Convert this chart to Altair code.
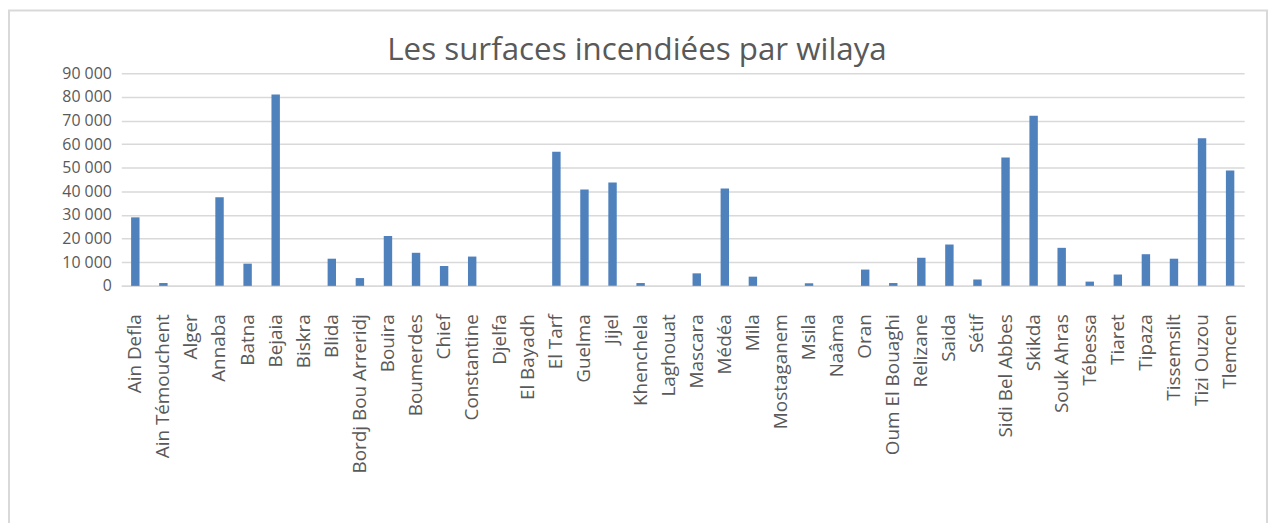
import altair as alt
import pandas as pd

wilayas = [
    "Ain Defla", "Ain Témouchent", "Alger", "Annaba", "Batna", "Bejaia", "Biskra",
    "Blida", "Bordj Bou Arreridj", "Bouira", "Boumerdes", "Chief", "Constantine",
    "Djelfa", "El Bayadh", "El Tarf", "Guelma", "Jijel", "Khenchela", "Laghouat",
    "Mascara", "Médéa", "Mila", "Mostaganem", "Msila", "Naâma", "Oran",
    "Oum El Bouaghi", "Relizane", "Saida", "Sétif", "Sidi Bel Abbes", "Skikda",
    "Souk Ahras", "Tébessa", "Tiaret", "Tipaza", "Tissemsilt", "Tizi Ouzou", "Tlemcen",
]
surfaces = [
    29000, 1200, 0, 37500, 9400, 81000, 0,
    11500, 3300, 21100, 14000, 8400, 12400,
    0, 0, 56800, 40800, 43700, 1200, 0,
    5300, 41200, 3900, 0, 1100, 0, 6900,
    1200, 11900, 17500, 2700, 54300, 72000,
    16100, 1800, 4800, 13400, 11500, 62500, 48800,
]
y_ticks = [0, 10000, 20000, 30000, 40000, 50000, 60000, 70000, 80000, 90000]
title_text = ["Les surfaces incendiées par wilaya"]

df = pd.DataFrame({"Wilaya": wilayas, "Surface": surfaces})

W, H = 1130, 214
PAD = {"left": 114, "top": 64, "right": 24, "bottom": 237}
FONT = "Open Sans"
GREY = "#595959"

bars = alt.Chart(df).mark_bar(color="#4f81bd").encode(
    x=alt.X(
        "Wilaya:N",
        sort=wilayas,
        scale=alt.Scale(paddingInner=0.7, paddingOuter=0.35),
        axis=alt.Axis(
            title=None, labelAngle=-90, labelAlign="right", labelBaseline="middle",
            labelFontSize=19, labelFont=FONT, labelColor=GREY, ticks=False,
            domainColor="#d9d9d9", domainWidth=1.5, labelPadding=28, labelOverlap=False,
        ),
    ),
    y=alt.Y(
        "Surface:Q",
        scale=alt.Scale(domain=[0, 90000], nice=False),
        axis=alt.Axis(
            title=None, values=y_ticks,
            labelExpr="replace(format(datum.value, ','), ',', ' ')",
            grid=True, gridColor="#d9d9d9", gridWidth=1.5, domain=False, ticks=False,
            labelFontSize=16, labelFont=FONT, labelColor=GREY, labelPadding=10,
        ),
    ),
)

frame = alt.Chart(pd.DataFrame({"a": [0]})).mark_rect(
    fillOpacity=0, stroke="#d9d9d9", strokeWidth=2
).encode(
    x=alt.value(-113), x2=alt.value(W + PAD["right"] - 1),
    y=alt.value(-63), y2=alt.value(H + PAD["bottom"] + 20),
)

title = alt.Chart(pd.DataFrame({"t": title_text})).mark_text(
    font=FONT, fontSize=31.5, color=GREY, align="center", baseline="alphabetic"
).encode(
    text="t:N", x=alt.value(W / 2 - 46), y=alt.value(-13),
)

chart = alt.layer(frame, bars, title).properties(
    width=W, height=H,
    padding=PAD,
    autosize=alt.AutoSizeParams(type="none"),
).configure_view(stroke=None)

chart.save("out.html", embed_options={"renderer": "svg", "actions": False})
